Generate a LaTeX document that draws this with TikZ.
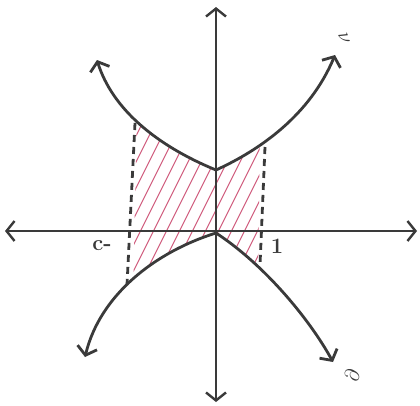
\documentclass[tikz,border=0pt]{standalone}
\usetikzlibrary{arrows.meta}
\definecolor{ink}{HTML}{3A3A3A}
\definecolor{hatchcol}{HTML}{D05A7C}
\begin{document}
\begin{tikzpicture}[x=1pt,y=-1pt,
  curve/.style={draw=ink,line width=2.8pt,line cap=round},
  axis/.style={draw=ink,line width=2.4pt,{Straight Barb[length=8pt,width=20pt]}-{Straight Barb[length=8pt,width=20pt]}},
  tip/.style={-{Straight Barb[length=8pt,width=20pt]}},
  dashline/.style={draw=ink,line width=2.8pt,dash pattern=on 7pt off 5pt},
  lab/.style={text=ink,font=\fontsize{22}{22}\selectfont\bfseries,inner sep=0pt}]
\useasboundingbox (0,0) rectangle (420,405);
% named points
\coordinate (xl) at (5,231);
\coordinate (xr) at (417,231);
\coordinate (yt) at (216,7);
\coordinate (yb) at (216,402);
\coordinate (uc) at (216,170);
\coordinate (ul) at (97,60);
\coordinate (ur) at (335,55);
\coordinate (lc) at (216,233);
\coordinate (ll) at (85,357);
\coordinate (lr) at (333,362);
\coordinate (dlt) at (135,123);
\coordinate (dlb) at (127,285);
\coordinate (drt) at (265,147);
\coordinate (drb) at (260,265);
% hatching
\begin{scope}
  \clip (139,0) -- (261,0) -- (257,405) -- (131,405) -- cycle;
  \clip (ul) .. controls (112,108) and (155,145) .. (uc)
        .. controls (260,150) and (310,115) .. (ur) -- (lr)
        .. controls (310,320) and (265,265) .. (lc)
        .. controls (155,252) and (100,295) .. (ll) -- cycle;
  \foreach \i in {0,13,...,420}
    \draw[hatchcol,line width=1pt] (\i,330) -- ++(150,-300);
\end{scope}
% axes
\draw[axis] (xl) -- (xr);
\draw[axis] (yb) -- (yt);
% curves
\draw[curve,tip] (uc) .. controls (155,145) and (112,108) .. (ul);
\draw[curve,tip] (uc) .. controls (260,150) and (310,115) .. (ur);
\draw[curve,tip] (lc) .. controls (155,252) and (100,295) .. (ll);
\draw[curve,tip] (lc) .. controls (265,265) and (310,320) .. (lr);
% dashed bounds
\draw[dashline] (dlt) -- (dlb);
\draw[dashline] (drt) -- (drb);
% labels
\node[lab] (lm1) at (102,246) {c-};
\node[lab] (l1) at (277,246) {1};
\node[lab,rotate=-70] (lu) at (344,38) {$\nu$};
\node[lab,rotate=80] (ld) at (352,375) {$\partial$};
\end{tikzpicture}
\end{document}
